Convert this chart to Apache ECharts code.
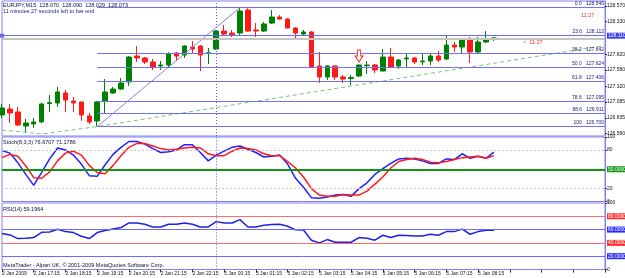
<!DOCTYPE html>
<html>
<head>
<meta charset="utf-8">
<script src="https://cdn.jsdelivr.net/npm/echarts@6/dist/echarts.min.js"></script>
<style>
html, body { margin: 0; padding: 0; background: #fff; }
#chart { width: 625px; height: 278px; }
</style>
</head>
<body>
<div id="chart"></div>
<script>
// EURJPY M15, 2 Jan 16:15 .. 5 Jan 08:45 (63 bars), chart is shifted so 77 slots
var opens  = [126.880,126.973,126.927,126.709,126.741,126.772,127.058,127.066,127.221,127.097,
              127.082,126.865,126.787,127.097,127.221,127.283,127.392,127.795,127.764,127.702,
              127.640,127.655,127.841,127.810,127.934,127.950,127.835,127.903,128.182,128.151,
              128.151,128.508,128.198,128.182,128.306,128.399,128.368,128.229,128.136,128.167,
              127.640,127.469,127.640,127.469,127.445,127.485,127.645,127.655,127.562,127.779,
              127.640,127.750,127.764,127.705,127.717,127.795,127.748,127.965,127.934,128.058,
              127.857,128.012,128.070];
var closes = [126.989,126.911,126.725,126.756,126.772,127.051,127.070,127.237,127.113,127.066,
              126.880,126.772,127.082,127.237,127.283,127.376,127.779,127.764,127.702,127.624,
              127.655,127.826,127.795,127.950,127.903,127.810,127.845,128.182,128.136,128.125,
              128.492,128.182,128.182,128.291,128.399,128.368,128.229,128.151,128.167,127.624,
              127.469,127.640,127.469,127.438,127.460,127.655,127.655,127.578,127.779,127.624,
              127.733,127.764,127.702,127.717,127.795,127.733,127.965,127.934,128.058,127.857,
              128.012,128.058,128.073];
var lows   = [126.834,126.756,126.710,126.616,126.679,126.756,126.927,127.004,126.927,126.927,
              126.787,126.741,126.700,126.911,127.206,127.268,127.330,127.702,127.671,127.578,
              127.578,127.624,127.733,127.764,127.841,127.562,127.671,127.888,128.120,128.089,
              128.105,128.170,128.089,128.167,128.291,128.360,128.220,128.074,128.105,127.615,
              127.376,127.423,127.423,127.376,127.345,127.470,127.516,127.531,127.555,127.609,
              127.593,127.609,127.671,127.655,127.655,127.702,127.733,127.857,127.841,127.686,
              127.826,127.996,128.029];
var highs  = [127.051,127.051,127.004,126.818,126.834,127.066,127.190,127.314,127.268,127.159,
              127.090,126.911,127.097,127.438,127.314,127.454,127.795,127.950,127.779,127.748,
              127.717,127.857,127.857,127.965,128.027,127.965,127.919,128.198,128.275,128.198,
              128.546,128.535,128.306,128.322,128.508,128.430,128.384,128.244,128.198,128.182,
              127.857,127.650,127.650,127.500,127.500,127.665,127.717,127.671,127.903,127.919,
              127.748,127.841,127.779,127.841,127.841,127.872,128.105,128.012,128.065,128.089,
              128.089,128.182,128.090];

var stochMain   = [79,75,60,42,25,45,66,83,80,72,58,40,39,57,73,84,93,93,89,82,
                   76,77,80,88,88,76,63,72,78,84,86,81,76,69,70,72,58,36,22,6,
                   5,7,10,11,8,20,29,42,51,59,66,67,66,63,59,59,66,65,74,67,
                   70,67,76.67];
var stochSignal = [68,73,70,55,37,36,46,63,75,78,72,56,45,43,56,71,84,90,90,86,
                   82,80,81,83,84,83,74,71,71,78,83,82,80,74,71,71,62,52,38,20,
                   10,8,8,11,10,10,16,27,38,52,62,65,67,65,61,60,62,65,68,69,
                   70,67,71.18];
var rsiValues   = [54,52,46.5,47,48,56,56.5,60.5,57,55.5,50,46.5,55.5,58.5,61,63,70,70,68,64,
                   64,68,68,70,68,64,64,72,70,70,75,64,64,66.5,67.5,68,65,59.6,59.5,44,
                   40,45,41,41,41,48,47,44,51.5,48,51.5,51,50.5,50.5,53,51.5,57,57,60.7,53,
                   57,59,59.2];

var timeLabels = ['2 Jan 2009','2 Jan 17:15','2 Jan 18:15','2 Jan 19:15','2 Jan 20:15',
                  '2 Jan 21:15','2 Jan 22:15','5 Jan 00:15','5 Jan 01:15','5 Jan 02:15',
                  '5 Jan 03:15','5 Jan 04:15','5 Jan 05:15','5 Jan 06:15','5 Jan 07:15','5 Jan 08:15'];
var priceTicks = [126.590,126.835,127.085,127.320,127.580,127.820,128.330,128.570];

var fibNames  = ['0.0','23.6','38.2','50.0','61.8','78.6','88.6','100'];
var fibPrices = [128.546,128.112,127.842,127.624,127.406,127.095,126.911,126.700];
var fibStartBar = 12;
var fibHighBar = 30;
var trendLine = [[0,126.648],[5,126.585],[12,126.700],[76,127.958]];
var arrowBar = 45, arrowPrice = 127.795;
var hLinePrice = 128.110, bidPrice = 128.073;
var dayBreakBar = 27;
var slotCount = 77;

var stochLevels = [80, 20];
var rsiLevels = [80, 60, 40, 20];
var rsiLevelColors = ['#ff3030', '#2a2aff', '#ff3030', '#2a2aff'];

var FONT = 'Liberation Sans, Arial, sans-serif';
var frameColor = '#8282f2';
var fibColor = '#7272f0';

var slots = [];
for (var i = 0; i < slotCount; i++) slots.push('s' + i);

var candles = opens.map(function (o, i) { return [o, closes[i], lows[i], highs[i]]; });

var fibMarks = fibPrices.map(function (p, k) {
  return [
    { coord: [fibStartBar, p], lineStyle: { color: fibColor, width: 1, type: 'solid' },
      label: { show: true, position: 'insideEndTop', distance: 1, fontSize: 5, fontFamily: FONT,
               color: '#1a1a80', formatter: fibNames[k] + '   ' + p.toFixed(3) } },
    { coord: [slotCount - 1, p] }
  ];
});

var sepLine = { xAxis: dayBreakBar, lineStyle: { color: '#5555ff', type: [1, 2], width: 1 }, label: { show: false } };

function boxLabel(text, bg) {
  return { show: true, position: 'end', distance: 2, formatter: text, fontSize: 5, fontFamily: FONT,
           color: '#fff', backgroundColor: bg, padding: [1, 1, 0, 1] };
}

var stochMarks = stochLevels.map(function (v) {
  return { yAxis: v, lineStyle: { color: '#c8c8c8', type: [2, 2], width: 1 }, label: { show: false } };
});
stochMarks.push({ yAxis: 50, lineStyle: { color: '#129412', type: 'solid', width: 2 }, label: boxLabel('50.0000', '#129412') });
stochMarks.push(sepLine);

var rsiMarks = rsiLevels.map(function (v, k) {
  return { yAxis: v, lineStyle: { color: rsiLevelColors[k] === '#ff3030' ? '#ff6a6a' : '#6a6aff', type: 'solid', width: 1 },
           label: boxLabel(v.toFixed(4), rsiLevelColors[k]) };
});
rsiMarks.push(sepLine);

var grids = [
  { left: 2, width: 603, top: 1, height: 135 },
  { left: 2, width: 603, top: 137, height: 64.5 },
  { left: 2, width: 603, top: 203, height: 66.5 }
].map(function (g) {
  return Object.assign(g, { show: true, borderColor: frameColor, borderWidth: 1, backgroundColor: '#fff', outerBoundsMode: 'none' });
});

function xAx(idx, showLabels) {
  return {
    type: 'category', gridIndex: idx, data: slots, boundaryGap: false,
    axisLine: { show: showLabels, lineStyle: { color: frameColor } },
    axisTick: { show: showLabels, interval: 3, length: 3, lineStyle: { color: '#333' } },
    axisLabel: {
      show: showLabels, interval: 3, align: 'left', margin: 2, fontSize: 5, fontFamily: FONT, color: '#111',
      formatter: function (v, i) { return timeLabels[i / 4] || ''; }
    },
    splitLine: { show: false }
  };
}

function yAx(idx, min, max, ticks, fmt) {
  return {
    type: 'value', gridIndex: idx, position: 'right', min: min, max: max,
    axisLine: { show: true, lineStyle: { color: frameColor } },
    axisTick: { show: true, length: 2, customValues: ticks, lineStyle: { color: '#333' } },
    axisLabel: { customValues: ticks, formatter: fmt, fontSize: 5, fontFamily: FONT, color: '#111', margin: 2 },
    splitLine: { show: false }
  };
}

function txt(x, y, text, fill) {
  return { type: 'text', x: x, y: y, silent: true,
           style: { text: text, fill: fill || '#101040', font: '5.5px ' + FONT } };
}

var chart = echarts.init(document.getElementById('chart'), null, { renderer: 'canvas' });
var option = {
  animation: false,
  backgroundColor: '#fff',
  grid: grids,
  xAxis: [xAx(0, false), xAx(1, false), xAx(2, true)],
  yAxis: [
    yAx(0, 126.554, 128.648, priceTicks, function (v) { return v.toFixed(3); }),
    yAx(1, 0, 100, [0, 20, 80, 100], function (v) { return String(v); }),
    yAx(2, 0, 100, [0, 100], function (v) { return String(v); })
  ],
  series: [
    {
      type: 'candlestick', xAxisIndex: 0, yAxisIndex: 0, data: candles, barWidth: 5,
      itemStyle: { color: '#008000', color0: '#ff1a1a', borderColor: '#008000', borderColor0: '#ff1a1a', borderWidth: 1 },
      markLine: {
        silent: true, symbol: 'none',
        data: fibMarks.concat([
          { yAxis: bidPrice, lineStyle: { color: '#c4c4c4', width: 2, type: 'solid' }, label: { show: false } },
          { yAxis: hLinePrice, symbol: ['emptyRect', 'none'], symbolSize: 4,
            lineStyle: { color: '#6a6af2', width: 1, type: 'solid' },
            label: boxLabel(hLinePrice.toFixed(3), '#3b3bf0') },
          sepLine
        ])
      },
      markPoint: {
        silent: true,
        symbol: 'path://M3,0 L7,0 L7,6 L10,6 L5,12 L0,6 L3,6 Z',
        symbolSize: [8, 12],
        itemStyle: { color: '#fff', borderColor: '#ff2020', borderWidth: 1 },
        label: { show: false },
        data: [{ coord: [arrowBar, arrowPrice] }]
      }
    },
    {
      type: 'line', xAxisIndex: 0, yAxisIndex: 0, symbol: 'none', silent: true,
      data: [[fibStartBar, fibPrices[7]], [fibHighBar, fibPrices[0]]],
      lineStyle: { color: '#9a7ad8', width: 1 }
    },
    {
      type: 'line', xAxisIndex: 0, yAxisIndex: 0, symbol: 'none', silent: true,
      data: trendLine,
      lineStyle: { color: '#7cbf7c', width: 1, type: [4, 3] }
    },
    {
      type: 'line', xAxisIndex: 1, yAxisIndex: 1, symbol: 'none', silent: true,
      data: stochMain, lineStyle: { color: '#2020ff', width: 1.5 },
      markLine: { silent: true, symbol: 'none', data: stochMarks }
    },
    {
      type: 'line', xAxisIndex: 1, yAxisIndex: 1, symbol: 'none', silent: true,
      data: stochSignal, lineStyle: { color: '#ff1a1a', width: 1.5 }
    },
    {
      type: 'line', xAxisIndex: 2, yAxisIndex: 2, symbol: 'none', silent: true,
      data: rsiValues, lineStyle: { color: '#2020e0', width: 1.5 },
      markLine: { silent: true, symbol: 'none', data: rsiMarks }
    }
  ],
  graphic: [
    txt(3, 2, 'EURJPY,M15  128.070  128.090  128.029  128.073'),
    txt(3, 8, '11 minutes 27 seconds left to bar end', '#1a1a90'),
    txt(581, 12, '11:27', '#ff3030'),
    txt(523, 39, '<  11:27', '#ff3030'),
    txt(3, 139, 'Stoch(8,3,3) 76.6707 71.1786'),
    txt(3, 206, 'RSI(14) 59.1964'),
    txt(3, 262, 'MetaTrader - Alpari UK, \u00a9 2001-2009 MetaQuotes Software Corp.')
  ]
};
chart.setOption(option);
</script>
</body>
</html>
